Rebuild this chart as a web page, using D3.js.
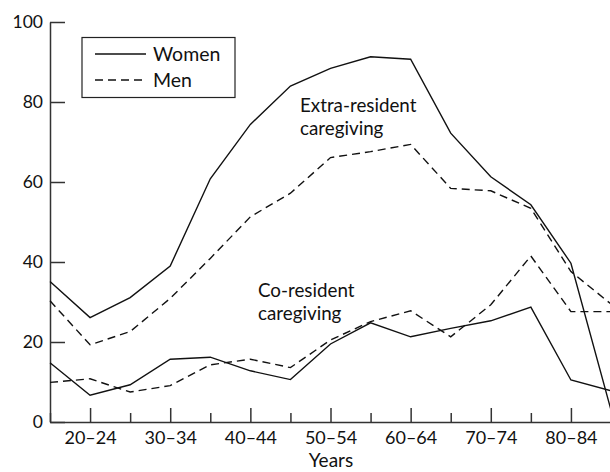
<!DOCTYPE html>
<html>
<head>
<meta charset="utf-8">
<script src="https://cdn.jsdelivr.net/npm/d3@7"></script>
<style>
  body { margin: 0; background: #fff; }
  svg text { font-family: "Lato", "DejaVu Sans", sans-serif; fill: #111; }
</style>
</head>
<body>
<svg id="chart"></svg>
<script>
const width = 610;
const height = 472;

const ageGroups = ["15–19", "20–24", "25–29", "30–34", "35–39", "40–44", "45–49",
    "50–54", "55–59", "60–64", "65–69", "70–74", "75–79", "80–84", "85+"];
const labelledGroups = ["20–24", "30–34", "40–44", "50–54", "60–64", "70–74", "80–84"];
const yTicks = [0, 20, 40, 60, 80, 100];

const womenExtra = [35.1, 26.1, 31.1, 39.0, 60.8, 74.4, 84.0, 88.4, 91.3, 90.7, 72.2, 61.3, 54.3, 39.7, 3.0];
const menExtra   = [30.3, 19.3, 22.6, 30.9, 40.9, 51.3, 57.2, 66.1, 67.6, 69.4, 58.4, 57.8, 53.4, 37.6, 29.5];
const womenCo    = [14.8, 6.7, 9.3, 15.7, 16.2, 12.8, 10.6, 19.5, 24.8, 21.3, 23.4, 25.3, 28.7, 10.5, 7.8];
const menCo      = [9.9, 10.8, 7.5, 9.1, 14.3, 15.7, 13.6, 20.5, 25.1, 27.8, 21.3, 29.3, 41.5, 27.6, 27.6];

const svg = d3.select("#chart")
    .attr("width", width)
    .attr("height", height);

const x = d3.scalePoint()
    .domain(ageGroups)
    .range([50, 611]);

const y = d3.scaleLinear()
    .domain([0, 100])
    .range([422, 22]);

// y axis, ticks pointing inwards
svg.append("g")
    .attr("transform", "translate(50,0)")
    .call(d3.axisLeft(y).tickValues(yTicks).tickSizeInner(-15).tickSizeOuter(0).tickPadding(7))
    .call(g => g.selectAll("text").style("font-size", "17.5px"))
    .call(g => g.selectAll("line, path").attr("stroke", "#333").attr("stroke-width", 1.5));

// x axis, long ticks on labelled groups
svg.append("g")
    .attr("transform", "translate(0,422)")
    .call(d3.axisBottom(x).tickSizeInner(-14).tickSizeOuter(0).tickPadding(9)
        .tickFormat(d => labelledGroups.includes(d) ? d : ""))
    .call(g => g.selectAll("text").style("font-size", "18px"))
    .call(g => g.selectAll(".tick line").filter(d => !labelledGroups.includes(d)).attr("y2", -9))
    .call(g => g.selectAll("line, path").attr("stroke", "#333").attr("stroke-width", 1.5));

svg.append("text")
    .attr("x", 331)
    .attr("y", 467)
    .attr("text-anchor", "middle")
    .style("font-size", "19px")
    .text("Years");

const line = d3.line()
    .x((d, i) => x(ageGroups[i]))
    .y(d => y(d));

const series = [
    { values: womenExtra, dash: null },
    { values: menExtra, dash: "8,5" },
    { values: womenCo, dash: null },
    { values: menCo, dash: "8,5" }
];

svg.selectAll(".series")
    .data(series)
    .enter()
    .append("path")
    .attr("class", "series")
    .attr("d", d => line(d.values))
    .attr("fill", "none")
    .attr("stroke", "#111")
    .attr("stroke-width", 1.4)
    .attr("stroke-dasharray", d => d.dash);

// annotations
const notes = [
    { x: 300, y: 112, lines: ["Extra-resident", "caregiving"] },
    { x: 258, y: 297, lines: ["Co-resident", "caregiving"] }
];

notes.forEach(n => {
    const t = svg.append("text")
        .attr("x", n.x)
        .attr("y", n.y)
        .style("font-size", "18.8px");
    n.lines.forEach((l, i) => {
        t.append("tspan")
            .attr("x", n.x)
            .attr("dy", i === 0 ? 0 : 23)
            .text(l);
    });
});

// legend
const legend = svg.append("g");
legend.append("rect")
    .attr("x", 82)
    .attr("y", 37.5)
    .attr("width", 153)
    .attr("height", 60)
    .attr("fill", "#fff")
    .attr("stroke", "#222")
    .attr("stroke-width", 1.2);

const legendItems = [
    { label: "Women", dash: null, y: 54 },
    { label: "Men", dash: "8,5", y: 80 }
];

legendItems.forEach(item => {
    legend.append("line")
        .attr("x1", 95)
        .attr("x2", 146)
        .attr("y1", item.y)
        .attr("y2", item.y)
        .attr("stroke", "#111")
        .attr("stroke-width", 1.4)
        .attr("stroke-dasharray", item.dash);
    legend.append("text")
        .attr("x", 153)
        .attr("y", item.y + 7)
        .style("font-size", "19.5px")
        .text(item.label);
});
</script>
</body>
</html>
